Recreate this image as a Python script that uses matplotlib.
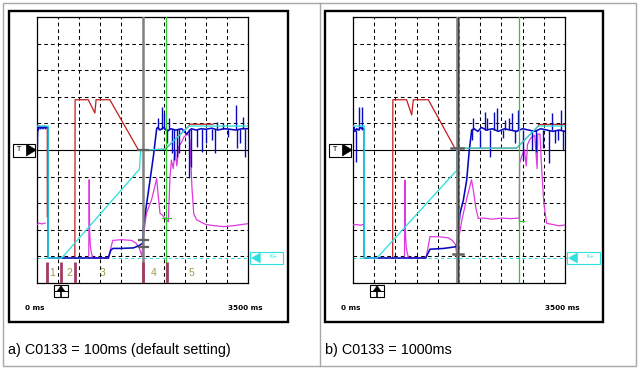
import numpy as np
import matplotlib.pyplot as plt
from matplotlib.patches import Rectangle, Polygon

plt.rcParams['font.family'] = ['Liberation Sans', 'DejaVu Sans']

nan = np.nan

# x in ms (0..3500, 350 ms / div), y in screen divisions (0..10)
T_LEVEL = 5.0     # black trigger line
K_LEVEL = 0.94    # cyan dashed K+ line

# ---------------- a) C0133 = 100ms
cyan_a_t = [0, 185, 185, 410, 1700, 1718, 1745, 2125, 2520, 3500]
cyan_a_y = [5.9, 5.9, 0.94, 0.94, 4.28, 4.95, 5.0, 5.03, 5.9, 5.9]

red_a_t = [0, 171, 171, nan, 628, 632, 850, 960, 980, 1208, 1680, 1750, 2125, 2520, 2530, 2920]
red_a_y = [5.88, 5.88, 2.49, nan, 0.94, 6.89, 6.89, 6.39, 6.89, 6.89, 5.01, 5.0, 5.03, 5.9, 5.97, 5.97]

blue_a_t = [0, 5, 12, 20, 40, 60, 80, 100, 120, 140, 160, 185, 185, 1183, 1225, 1260, 1400,
            1600, 1690, 1755, 1763, 1820, 1875, 1930, 1985, 2000, 2040, 2100, 2160, 2220,
            2300, 2400, 2480, 2520, 2560, 2640, 2720, 2800, 2900, 3000, 3100, 3200, 3300,
            3400, 3500]
blue_a_y = [5.7, 5.1, 5.85, 5.75, 5.9, 5.8, 5.88, 5.8, 5.9, 5.8, 5.85, 5.85, 0.94, 0.94, 1.24,
            1.3, 1.3, 1.32, 1.4, 1.5, 2.1, 3.0, 3.87, 4.75, 5.8, 5.85, 5.75, 5.85, 5.7, 5.8,
            5.75, 5.8, 5.6, 5.7, 5.8, 5.75, 5.8, 5.78, 5.82, 5.75, 5.8, 5.78, 5.75, 5.8, 5.8]
blue_a_base = 5.8
blue_a_spike_t = [2013, 2079, 2107, 2151, 2195, 2234, 2272, 2317, 2361, 2527, 2554, 2648,
                  2731, 2803, 2897, 2952, 2991, 3091, 3174, 3301, 3323, 3367, 3423, 3450]
blue_a_spike_y = [6.19, 6.63, 6.38, 5.25, 6.19, 4.88, 4.62, 4.75, 4.88, 3.94, 4.37, 5.13,
                  4.94, 5.25, 5.38, 4.88, 6.07, 6.0, 5.5, 6.69, 5.06, 5.25, 6.25, 4.75]

magenta_a_t = [0, 40, 80, 133, nan, 858, 866, 872, 885, 905, 930, 1183, 1256, 1400, 1571,
               1640, 1700, 1740, 1763, 1817, 1900, 1955, 1985, 2010, 2040, 2080, 2123, 2178,
               2206, 2230, 2260, 2290, 2320, 2350, 2400, 2440, 2483, 2520, 2538, 2570, 2600,
               2649, 2800, 2950, 3100, 3250, 3400, 3500]
magenta_a_y = [2.2, 2.25, 2.22, 2.25, nan, 0.94, 3.88, 2.0, 1.4, 1.1, 0.94, 0.94, 1.6, 1.63,
               1.6, 1.5, 1.3, 1.0, 1.74, 2.63, 3.13, 3.63, 3.93, 3.3, 2.62, 2.55, 2.43, 2.3,
               4.0, 4.62, 4.3, 5.0, 4.4, 5.12, 5.3, 5.5, 5.56, 5.6, 5.3, 3.6, 2.6, 2.37, 2.2,
               2.15, 2.12, 2.15, 2.2, 2.23]

grey_a_t = 1762
green_a_t = 2145
grey_a_ticks = [(1.63, 1690, 1845), (1.35, 1690, 1845), (5.0, 1675, 1845)]
green_a_ticks = [(2.44, 2075, 2215)]

phase_t = [161, 393, 623, 1753, 2151]
phase_label_t = [254, 536, 1090, 1941, 2555]
phase_labels = ['1', '2', '3', '4', '5']

# ---------------- b) C0133 = 1000ms
cyan_b_t = [0, 185, 185, 395, 1690, 1712, 1712, 2701, 3059, 3500]
cyan_b_y = [5.9, 5.9, 0.94, 0.94, 4.18, 4.2, 5.07, 5.07, 5.9, 5.9]

red_b_t = [655, 658, 884, 969, 996, 1243, 1684, 2701, 3059, 3065, 3500]
red_b_y = [0.94, 6.89, 6.89, 6.32, 6.89, 6.89, 5.06, 5.07, 5.9, 5.96, 5.96]

blue_b_t = [0, 15, 30, 60, 90, 120, 150, 185, 185, 1200, 1271, 1500, 1656, 1712, 1767, 1822,
            1877, 1920, 1960, 2000, 2060, 2120, 2200, 2300, 2400, 2500, 2600, 2700, 2800,
            2900, 3000, 3100, 3200, 3300, 3400, 3500]
blue_b_y = [5.75, 5.85, 5.7, 5.8, 5.75, 5.85, 5.8, 5.8, 0.94, 0.94, 1.27, 1.3, 1.35, 1.37,
            2.62, 3.12, 3.87, 5.0, 5.75, 5.8, 5.7, 5.85, 5.75, 5.8, 5.7, 5.8, 5.75, 5.7, 5.8,
            5.75, 5.7, 5.8, 5.75, 5.7, 5.75, 5.7]
blue_b_base = 5.75
blue_b_spike_t = [50, 104, 143, 1959, 1976, 2097, 2179, 2218, 2262, 2328, 2372, 2482, 2509,
                  2581, 2619, 2674, 2719, 2801, 2950, 3021, 3142, 3236, 3280, 3335, 3390,
                  3434, 3472]
blue_b_spike_y = [4.55, 6.63, 6.63, 5.38, 6.19, 5.06, 6.44, 6.19, 4.75, 6.44, 6.57, 5.44,
                  6.13, 6.19, 6.38, 5.25, 6.5, 4.63, 5.0, 4.94, 5.06, 4.5, 6.38, 5.25, 5.38,
                  6.5, 5.0]

magenta_b_t = [0, 60, 120, 166, nan, 850, 858, 864, 877, 897, 922, 1205, 1271, 1400, 1571,
               1640, 1690, 1712, 1725, 1800, 1880, 1957, 1986, 2030, 2068, 2150, 2300, 2450,
               2600, 2745, 2750, 2790, 2830, 2860, 2880, 2920, 2960, 3000, 3040, 3050, 3087,
               3110, 3150, 3197, 3300, 3400, 3500]
magenta_b_y = [2.18, 2.2, 2.17, 2.2, nan, 0.94, 3.87, 2.0, 1.4, 1.1, 0.94, 0.94, 1.74, 1.74,
               1.7, 1.6, 1.45, 1.1, 1.4, 2.4, 3.2, 3.88, 3.5, 2.8, 2.43, 2.44, 2.4, 2.44,
               2.42, 2.44, 4.5, 4.8, 5.0, 4.4, 5.2, 5.4, 5.5, 5.55, 4.3, 5.6, 5.6, 4.5, 3.0,
               2.24, 2.2, 2.15, 2.18]

grey_b_t = 1735
green_b_t = 2734
grey_b_ticks = [(5.07, 1626, 1819), (1.1, 1643, 1808)]
grey_b_step = (2745, 2.32, 3.13)
green_b_ticks = [(2.32, 2745, 2822)]

CYAN = '#30e0e0'
RED = '#c41c1c'
MAGENTA = '#e038e0'
BLUE = '#0808c0'
GREEN = '#2ccc2c'
GREY = '#808080'
MAROON = '#a03c64'
OLIVE = '#a09848'

W, H = 639, 368
fig = plt.figure(figsize=(W / 100, H / 100), dpi=100)

# page frame, captions
bg = fig.add_axes([0, 0, 1, 1])
bg.set_xlim(0, W)
bg.set_ylim(H, 0)
bg.axis('off')
bg.add_patch(Rectangle((3, 3), 633, 363, fill=False, ec='#a8a8a8', lw=1))
bg.plot([320, 320], [3, 366], color='#a8a8a8', lw=1)
bg.add_patch(Rectangle((9, 11), 279, 311, fill=False, ec='k', lw=1.7))
bg.add_patch(Rectangle((325, 11), 278, 311, fill=False, ec='k', lw=1.7))
bg.text(8, 350, 'a) C0133 = 100ms (default setting)', fontsize=10.4, va='center')
bg.text(325, 350, 'b) C0133 = 1000ms', fontsize=10.4, va='center')


def make_scope(left_px, width_px):
    ax = fig.add_axes([left_px / W, (H - 283) / H, width_px / W, 266 / H])
    ax.set_xlim(0, 3500)
    ax.set_ylim(0, 10)
    ax.set_xticks(np.arange(0, 3501, 350))
    ax.set_yticks(np.arange(0, 11, 1))
    ax.tick_params(length=0, labelbottom=False, labelleft=False)
    ax.grid(True, color='k', lw=0.75, linestyle=(0, (3.5, 3)))
    ax.set_axisbelow(True)
    for s in ax.spines.values():
        s.set_linewidth(0.9)

    ax.axhline(T_LEVEL, color='k', lw=0.8, zorder=1)
    ax.axhline(K_LEVEL, xmin=0, xmax=1.012, color=CYAN, lw=0.75,
               linestyle=(0, (3, 3)), clip_on=False, zorder=1)

    # T marker on the left
    ty = ax.get_yaxis_transform()
    ax.add_patch(Rectangle((-0.112, T_LEVEL - 0.25), 0.103, 0.46, transform=ty,
                           fc='white', ec='k', lw=0.8, clip_on=False))
    ax.text(-0.1, T_LEVEL + 0.02, 'T', transform=ty, fontsize=5, va='center',
            family='DejaVu Sans')
    ax.add_patch(Polygon([(-0.05, T_LEVEL - 0.22), (-0.05, T_LEVEL + 0.22), (-0.004, T_LEVEL)],
                         closed=True, transform=ty, fc='k', ec='k', lw=0.5, clip_on=False))

    # K+ marker on the right
    ax.add_patch(Rectangle((1.01, K_LEVEL - 0.23), 0.156, 0.46, transform=ty,
                           fc='white', ec=CYAN, lw=0.8, clip_on=False))
    ax.add_patch(Polygon([(1.018, K_LEVEL), (1.058, K_LEVEL + 0.18), (1.058, K_LEVEL - 0.18)],
                         closed=True, transform=ty, fc=CYAN, ec=CYAN, lw=0.5, clip_on=False))
    ax.text(1.1, K_LEVEL + 0.07, 'K+', transform=ty, fontsize=4, color=CYAN,
            va='center', family='DejaVu Sans')

    # trigger position marker below the screen
    tx = ax.get_xaxis_transform()
    ax.add_patch(Rectangle((282, -0.053), 232, 0.045, transform=tx,
                           fc='white', ec='k', lw=0.8, clip_on=False))
    ax.add_patch(Polygon([(398, -0.011), (335, -0.031), (461, -0.031)], closed=True,
                         transform=tx, fc='k', ec='k', lw=0.5, clip_on=False))
    ax.plot([282, 514], [-0.031, -0.031], transform=tx, color='k', lw=0.7, clip_on=False)
    ax.plot([398, 398], [-0.031, -0.053], transform=tx, color='k', lw=1.2, clip_on=False)

    ax.text(-0.057, -0.094, '0 ms', transform=ax.transAxes, fontsize=5.2,
            va='center', family='DejaVu Sans', fontweight='bold')
    ax.text(0.905, -0.094, '3500 ms', transform=ax.transAxes, fontsize=5.2,
            va='center', family='DejaVu Sans', fontweight='bold')
    return ax


def draw_traces(ax, cyan, red, magenta, blue, base, spikes):
    ax.plot(*red, color=RED, lw=0.9, zorder=2)
    ax.plot(*magenta, color=MAGENTA, lw=0.9, zorder=3)
    ax.plot(*blue, color=BLUE, lw=1.15, zorder=4)
    ax.vlines(spikes[0], base, spikes[1], color=BLUE, lw=1.0, zorder=4)
    ax.plot(*cyan, color=CYAN, lw=0.95, zorder=5)


# ---- panel a
ax_a = make_scope(37, 211)
draw_traces(ax_a, (cyan_a_t, cyan_a_y), (red_a_t, red_a_y), (magenta_a_t, magenta_a_y),
            (blue_a_t, blue_a_y), blue_a_base, (blue_a_spike_t, blue_a_spike_y))
ax_a.axvline(grey_a_t, color=GREY, lw=1.8, zorder=6)
ax_a.axvline(green_a_t, color=GREEN, lw=0.9, zorder=6)
for y, t0, t1 in grey_a_ticks:
    ax_a.plot([t0, t1], [y, y], color='#606060', lw=1.6, zorder=7)
for y, t0, t1 in green_a_ticks:
    ax_a.plot([t0, t1], [y, y], color=GREEN, lw=0.9, zorder=7)
ax_a.vlines(phase_t, 0, 0.8, color=MAROON, lw=2, zorder=7)
for t, lab in zip(phase_label_t, phase_labels):
    ax_a.text(t, 0.36, lab, ha='center', va='center', fontsize=7.5, color=OLIVE, zorder=7)

# ---- panel b
ax_b = make_scope(353, 212)
draw_traces(ax_b, (cyan_b_t, cyan_b_y), (red_b_t, red_b_y), (magenta_b_t, magenta_b_y),
            (blue_b_t, blue_b_y), blue_b_base, (blue_b_spike_t, blue_b_spike_y))
ax_b.axvline(grey_b_t, color=GREY, lw=2.6, zorder=6)
ax_b.axvline(grey_b_t, color='#303030', lw=0.6, zorder=6)
ax_b.axvline(green_b_t, color=GREEN, lw=0.9, zorder=6)
for y, t0, t1 in grey_b_ticks:
    ax_b.plot([t0, t1], [y, y], color='#606060', lw=1.8, zorder=7)
ax_b.plot([grey_b_step[0]] * 2, grey_b_step[1:], color=GREY, lw=0.9, zorder=7)
for y, t0, t1 in green_b_ticks:
    ax_b.plot([t0, t1], [y, y], color=GREEN, lw=0.9, zorder=7)

fig.savefig('out.png', dpi=100)
